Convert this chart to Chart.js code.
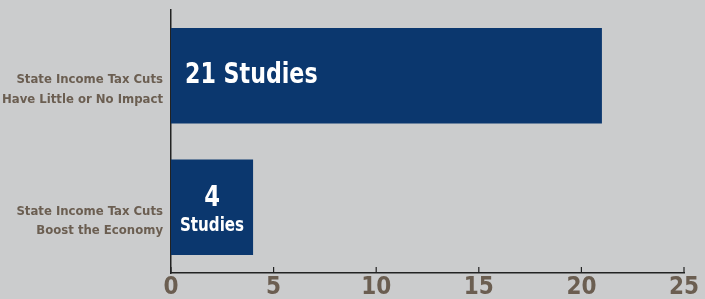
<!DOCTYPE html>
<html><head><meta charset="utf-8">
<script src="https://cdn.jsdelivr.net/npm/chart.js@4"></script>
<style>html,body{margin:0;padding:0;background:#cbcccd;}#wrap{width:705px;height:299px;position:relative;}</style>
</head><body><div id="wrap"><canvas id="c" width="705" height="299"></canvas></div>
<script>
const categories = [["State Income Tax Cuts","Have Little or No Impact"],["State Income Tax Cuts","Boost the Economy"]];
const studies = [21, 4];
const barLabels = [["21 Studies"], ["4", "Studies"]];
const xTicks = [0, 5, 10, 15, 20, 25];

const FONT = "'DejaVu Sans Condensed','Liberation Sans',sans-serif";
const TEXT = '#6b5e51';

function narrowText(ctx, text, x, y, sx) {
  ctx.save();
  ctx.translate(x, y);
  ctx.scale(sx, 1);
  ctx.fillText(text, 0, 0);
  ctx.restore();
}

const extras = {
  id: 'extras',
  afterDatasetsDraw(chart) {
    const ctx = chart.ctx;
    const meta = chart.getDatasetMeta(0);
    const xs = chart.scales.x;
    const area = chart.chartArea;
    ctx.save();
    ctx.strokeStyle = '#222';
    ctx.lineWidth = 1.2;
    xTicks.forEach(v => {
      const px = xs.getPixelForValue(v);
      ctx.beginPath();
      ctx.moveTo(px, area.bottom);
      ctx.lineTo(px, area.bottom - 6);
      ctx.stroke();
    });
    ctx.fillStyle = '#ffffff';
    ctx.textBaseline = 'middle';
    meta.data.forEach((bar, i) => {
      const lines = barLabels[i];
      if (lines.length === 1) {
        ctx.font = "bold 28px " + FONT;
        ctx.textAlign = 'left';
        narrowText(ctx, lines[0], bar.base + 14, bar.y, 0.88);
      } else {
        const cx = (bar.base + bar.x) / 2;
        ctx.textAlign = 'center';
        ctx.font = "bold 28px " + FONT;
        narrowText(ctx, lines[0], cx, bar.y - 9, 0.9);
        ctx.font = "bold 20px " + FONT;
        narrowText(ctx, lines[1], cx, bar.y + 19, 0.84);
      }
    });
    ctx.restore();
  }
};

new Chart(document.getElementById('c'), {
  type: 'bar',
  data: {
    labels: categories,
    datasets: [{ data: studies, backgroundColor: '#0b376e', borderWidth: 0,
      barPercentage: 0.727, categoryPercentage: 1.0 }]
  },
  options: {
    indexAxis: 'y',
    responsive: false,
    animation: false,
    layout: { padding: { top: 10, right: 21, left: 0, bottom: 0 } },
    plugins: { legend: { display: false }, tooltip: { enabled: false } },
    scales: {
      x: {
        min: 0, max: 25,
        afterBuildTicks(s) { s.ticks = xTicks.map(v => ({ value: v })); },
        afterFit(s) { s.height = 26; s.paddingLeft = 0; s.paddingRight = 0; },
        grid: { display: false, drawTicks: false },
        border: { display: true, color: '#222', width: 1.5 },
        ticks: { color: TEXT, padding: 0, font: { family: FONT, size: 24, weight: 'bold' }, maxRotation: 0 }
      },
      y: {
        afterFit(s) { s.width = 171; s.paddingTop = 0; s.paddingBottom = 0; },
        grid: { display: false, drawTicks: false },
        border: { display: true, color: '#222', width: 1.5 },
        ticks: { color: TEXT, padding: 8, labelOffset: 14, font: { family: FONT, size: 13, weight: 'bold', lineHeight: 1.5 } }
      }
    }
  },
  plugins: [extras]
});
</script></body></html>
